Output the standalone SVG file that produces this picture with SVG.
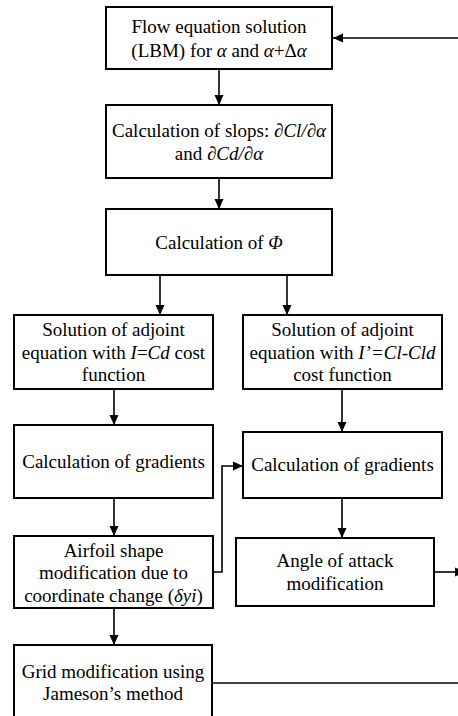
<svg xmlns="http://www.w3.org/2000/svg" width="458" height="716" viewBox="0 0 458 716">
<defs>
<marker id="ah" markerUnits="userSpaceOnUse" markerWidth="10" markerHeight="10" refX="10" refY="5" orient="auto">
<path d="M0,0.5 L10,5 L0,9.5 z" fill="#000"/>
</marker>
</defs>
<rect width="458" height="716" fill="#fff"/>
<g id="connectors" fill="none" stroke="#000" stroke-width="1.6">
<path d="M219,69 V105" marker-end="url(#ah)"/>
<path d="M219,178 V209" marker-end="url(#ah)"/>
<path d="M160,275 V315" marker-end="url(#ah)"/>
<path d="M287,275 V315" marker-end="url(#ah)"/>
<path d="M114,389 V425" marker-end="url(#ah)"/>
<path d="M342,389 V432" marker-end="url(#ah)"/>
<path d="M114,498 V536" marker-end="url(#ah)"/>
<path d="M342,498 V538" marker-end="url(#ah)"/>
<path d="M213,572 H222 V466 H243" marker-end="url(#ah)"/>
<path d="M434,572 H465" marker-end="url(#ah)"/>
<path d="M114,608 V645" marker-end="url(#ah)"/>
<path d="M212,683 H462"/>
<path d="M462,38 H333" marker-end="url(#ah)"/>
</g>
<g id="n1">
<rect x="106" y="7" width="226" height="62" fill="#fff" stroke="#000" stroke-width="2"/>
<text x="219" y="33" font-family="Times New Roman" font-size="19" text-anchor="middle">Flow equation solution</text>
<text x="219" y="57" font-family="Times New Roman" font-size="19" text-anchor="middle">(LBM) for <tspan font-style="italic">&#945;</tspan> and <tspan font-style="italic">&#945;</tspan>+&#916;<tspan font-style="italic">&#945;</tspan></text>
</g>
<g id="n2">
<rect x="106" y="105" width="226" height="73" fill="#fff" stroke="#000" stroke-width="2"/>
<text x="219" y="137" font-family="Times New Roman" font-size="19" text-anchor="middle">Calculation of slops: <tspan font-style="italic">&#8706;Cl/&#8706;&#945;</tspan></text>
<text x="219" y="160" font-family="Times New Roman" font-size="19" text-anchor="middle">and <tspan font-style="italic">&#8706;Cd/&#8706;&#945;</tspan></text>
</g>
<g id="n3">
<rect x="106" y="209" width="226" height="66" fill="#fff" stroke="#000" stroke-width="2"/>
<text x="219" y="249" font-family="Times New Roman" font-size="19" text-anchor="middle">Calculation of <tspan font-style="italic">&#934;</tspan></text>
</g>
<g id="n4">
<rect x="14" y="315" width="199" height="74" fill="#fff" stroke="#000" stroke-width="2"/>
<text x="113.5" y="336" font-family="Times New Roman" font-size="19" text-anchor="middle">Solution of adjoint</text>
<text x="113.5" y="359" font-family="Times New Roman" font-size="19" text-anchor="middle">equation with <tspan font-style="italic">I</tspan>=<tspan font-style="italic">Cd</tspan> cost</text>
<text x="113.5" y="381" font-family="Times New Roman" font-size="19" text-anchor="middle">function</text>
</g>
<g id="n5">
<rect x="243" y="315" width="199" height="74" fill="#fff" stroke="#000" stroke-width="2"/>
<text x="342.5" y="336" font-family="Times New Roman" font-size="19" text-anchor="middle">Solution of adjoint</text>
<text x="342.5" y="359" font-family="Times New Roman" font-size="19" text-anchor="middle">equation with <tspan font-style="italic">I&#8217;=Cl-Cld</tspan></text>
<text x="342.5" y="381" font-family="Times New Roman" font-size="19" text-anchor="middle">cost function</text>
</g>
<g id="n6">
<rect x="14" y="425" width="199" height="73" fill="#fff" stroke="#000" stroke-width="2"/>
<text x="113.5" y="468" font-family="Times New Roman" font-size="19" text-anchor="middle">Calculation of gradients</text>
</g>
<g id="n7">
<rect x="243" y="432" width="199" height="66" fill="#fff" stroke="#000" stroke-width="2"/>
<text x="342.5" y="471" font-family="Times New Roman" font-size="19" text-anchor="middle">Calculation of gradients</text>
</g>
<g id="n8">
<rect x="14" y="536" width="199" height="72" fill="#fff" stroke="#000" stroke-width="2"/>
<text x="113.5" y="557" font-family="Times New Roman" font-size="19" text-anchor="middle">Airfoil shape</text>
<text x="113.5" y="579" font-family="Times New Roman" font-size="19" text-anchor="middle">modification due to</text>
<text x="113.5" y="602" font-family="Times New Roman" font-size="19" text-anchor="middle">coordinate change (<tspan font-style="italic">&#948;yi</tspan>)</text>
</g>
<g id="n9">
<rect x="236" y="538" width="198" height="68" fill="#fff" stroke="#000" stroke-width="2"/>
<text x="335" y="567" font-family="Times New Roman" font-size="19" text-anchor="middle">Angle of attack</text>
<text x="335" y="590" font-family="Times New Roman" font-size="19" text-anchor="middle">modification</text>
</g>
<g id="n10">
<rect x="14" y="645" width="198" height="80" fill="#fff" stroke="#000" stroke-width="2"/>
<text x="113" y="678" font-family="Times New Roman" font-size="19" text-anchor="middle">Grid modification using</text>
<text x="113" y="700" font-family="Times New Roman" font-size="19" text-anchor="middle">Jameson&#8217;s method</text>
</g>
</svg>
